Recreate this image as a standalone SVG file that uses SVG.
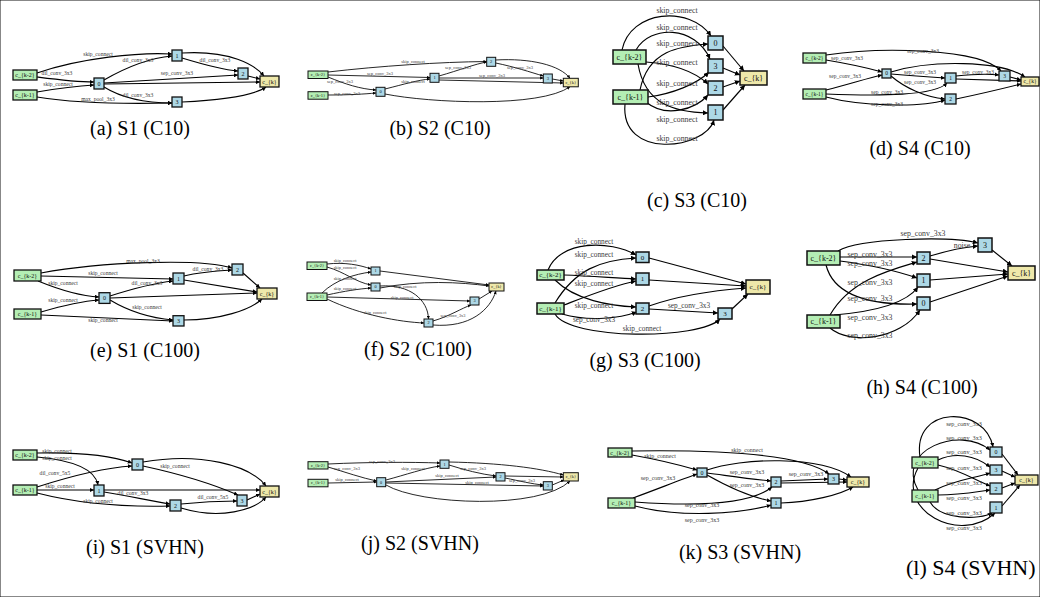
<svg xmlns="http://www.w3.org/2000/svg" width="1040" height="597" viewBox="0 0 1040 597">
<defs>
<marker id="mS" viewBox="0 0 10 10" refX="10" refY="5" markerWidth="3.2" markerHeight="3.2" markerUnits="userSpaceOnUse" orient="auto"><path d="M0,0L10,5L0,10z" fill="#000"/></marker>
<marker id="mM" viewBox="0 0 10 10" refX="10" refY="5" markerWidth="4.2" markerHeight="4.2" markerUnits="userSpaceOnUse" orient="auto"><path d="M0,0L10,5L0,10z" fill="#000"/></marker>
<marker id="mL" viewBox="0 0 10 10" refX="10" refY="5" markerWidth="5.2" markerHeight="5.2" markerUnits="userSpaceOnUse" orient="auto"><path d="M0,0L10,5L0,10z" fill="#000"/></marker>
</defs>
<style>
text{font-family:"Liberation Serif","Times New Roman",serif;text-anchor:middle}
rect{stroke:#111}
.in{fill:#b4eeb4}.mid{fill:#add8e6}.out{fill:#eee8aa}
.S rect{stroke-width:1}.M rect{stroke-width:1.3}.L rect{stroke-width:1.5}
.edges path{fill:none;stroke:#000}
.eS path{stroke-width:0.85;marker-end:url(#mS)}
.eM path{stroke-width:1.1;marker-end:url(#mM)}
.eL path{stroke-width:1.15;marker-end:url(#mL)}
.edges text{fill:#3a3a3a}
.nt{fill:#111}
.f43{font-size:4.3px}.f45{font-size:4.5px}.f55{font-size:5.5px}.f56{font-size:5.6px}.f6{font-size:6px}.f62{font-size:6.2px}.f7{font-size:7px}.f73{font-size:7.3px}.f78{font-size:7.8px}.f8{font-size:8px}
.cap{font-size:20px;fill:#000}
</style>
<rect width="1040" height="597" fill="#fff"/>

<!-- (a) -->
<g id="fig-a">
<g id="a-edges" class="edges eM">
<path d="M37,73 C80,58 140,52 172,54"/>
<path d="M37,77 C60,80 75,82 94,82"/>
<path d="M37,92 C60,88 75,86 94,85"/>
<path d="M37,97 C80,104 130,104 172,103"/>
<path d="M104,80 C130,65 150,58 172,56"/>
<path d="M104,87 C125,100 150,103 172,103"/>
<path d="M104,83 L238,75"/>
<path d="M104,84 L260,82"/>
<path d="M182,58 C205,65 225,70 238,71"/>
<path d="M182,53 C230,50 255,65 264,76"/>
<path d="M248,76 L260,79"/>
<path d="M182,102 C220,100 255,95 266,87"/>
<g class="f56">
<text x="98" y="56">skip_connect</text>
<text x="57" y="75">dil_conv_3x3</text>
<text x="58" y="86">skip_connect</text>
<text x="98" y="101">max_pool_3x3</text>
<text x="138" y="62">dil_conv_3x3</text>
<text x="138" y="97">dil_conv_3x3</text>
<text x="177" y="75">sep_conv_3x3</text>
<text x="215" y="62">dil_conv_3x3</text>
</g>
</g>
<g class="M f6">
<g id="a-k2"><rect class="in" x="13" y="70" width="24" height="10"/><text class="nt" x="25" y="77">c_{k-2}</text></g>
<g id="a-k1"><rect class="in" x="13" y="90" width="24" height="10"/><text class="nt" x="25" y="97">c_{k-1}</text></g>
<g id="a-n0"><rect class="mid" x="94" y="78" width="10" height="11"/><text class="nt" x="99" y="85.5">0</text></g>
<g id="a-n1"><rect class="mid" x="172" y="50" width="10" height="11"/><text class="nt" x="177" y="57.5">1</text></g>
<g id="a-n2"><rect class="mid" x="238" y="68" width="10" height="11"/><text class="nt" x="243" y="75.5">2</text></g>
<g id="a-n3"><rect class="mid" x="172" y="97" width="10" height="10"/><text class="nt" x="177" y="104">3</text></g>
<g id="a-ck"><rect class="out" x="260" y="76" width="19" height="11"/><text class="nt" x="269.5" y="83.5">c_{k}</text></g>
</g>
<text class="cap" x="140" y="135">(a) S1 (C10)</text>
</g>

<!-- (b) -->
<g id="fig-b">
<g id="b-edges" class="edges eS">
<path d="M328,72 C380,66 440,62 486.7,61.5"/>
<path d="M328,75 L430,77.5"/>
<path d="M328,77 C345,84 360,89 376,90"/>
<path d="M328,95 C350,95 365,94 376,93"/>
<path d="M385,89 C405,84 418,80 430,79"/>
<path d="M439,76 C460,70 475,64 486.7,62"/>
<path d="M439,78 L543.3,78"/>
<path d="M439,80 L563.3,83"/>
<path d="M495.7,63 C515,67 530,72 543.3,76"/>
<path d="M495.7,60 C530,58 560,65 570,78.3"/>
<path d="M552.3,79 L563.3,81"/>
<path d="M385,94 C430,103 540,108 570,86.7"/>
<g class="f45">
<text x="413" y="62.5">skip_connect</text>
<text x="380" y="74.5">sep_conv_3x3</text>
<text x="340" y="82.5">sep_conv_3x3</text>
<text x="347" y="94.5">sep_conv_3x3</text>
<text x="413" y="82.5">skip_connect</text>
<text x="458" y="68.5">sep_conv_3x3</text>
<text x="492" y="76.5">sep_conv_3x3</text>
<text x="520" y="68.5">sep_conv_3x3</text>
</g>
</g>
<g class="S f45">
<g id="b-k2"><rect class="in" x="308" y="71" width="20" height="7.5"/><text class="nt" x="318" y="76.2">c_{k-2}</text></g>
<g id="b-k1"><rect class="in" x="308" y="91.7" width="20" height="7.5"/><text class="nt" x="318" y="97">c_{k-1}</text></g>
<g id="b-n0"><rect class="mid" x="376" y="87.3" width="9" height="9"/><text class="nt" x="380.5" y="93.3">0</text></g>
<g id="b-n1"><rect class="mid" x="430" y="73.3" width="9" height="9"/><text class="nt" x="434.5" y="79.3">1</text></g>
<g id="b-n2"><rect class="mid" x="486.7" y="57.3" width="9" height="9"/><text class="nt" x="491.2" y="63.3">2</text></g>
<g id="b-n3"><rect class="mid" x="543.3" y="74" width="9" height="9"/><text class="nt" x="547.8" y="80">3</text></g>
<g id="b-ck"><rect class="out" x="563.3" y="78.3" width="15" height="8.5"/><text class="nt" x="570.8" y="84">c_{k}</text></g>
</g>
<text class="cap" x="440" y="135">(b) S2 (C10)</text>
</g>

<!-- (c) -->
<g id="fig-c">
<g id="c-edges" class="edges eL">
<path d="M622,50 C630,10 690,5 711,36"/>
<path d="M636,50 C650,25 695,25 710,59"/>
<path d="M640,90 C648,50 680,46 708,44"/>
<path d="M646,62 C675,64 695,72 708,84"/>
<path d="M648,97 C672,94 697,84 709,72"/>
<path d="M638,64 C645,105 675,112 708,113"/>
<path d="M646,102 C665,118 695,110 708,95"/>
<path d="M625,104 C620,160 705,150 714,120"/>
<path d="M723,46 L744,71"/>
<path d="M723,68 L740,75"/>
<path d="M723,87 L740,81"/>
<path d="M723,110 L745,85"/>
<g class="f78">
<text x="677" y="12.6">skip_connect</text>
<text x="677" y="29.6">skip_connect</text>
<text x="677" y="45.6">skip_connect</text>
<text x="677" y="64.6">skip_connect</text>
<text x="677" y="85.6">skip_connect</text>
<text x="677" y="104.6">skip_connect</text>
<text x="677" y="121.6">skip_connect</text>
<text x="677" y="140.6">skip_connect</text>
</g>
</g>
<g class="L f8">
<g id="c-k2"><rect class="in" x="613" y="50" width="33" height="14"/><text class="nt" x="629.5" y="59.7">c_{k-2}</text></g>
<g id="c-k1"><rect class="in" x="613" y="90" width="35" height="14"/><text class="nt" x="630.5" y="99.7">c_{k-1}</text></g>
<g id="c-n0"><rect class="mid" x="708" y="36" width="15" height="14"/><text class="nt" x="715.5" y="45.7">0</text></g>
<g id="c-n3"><rect class="mid" x="708" y="59" width="15" height="14"/><text class="nt" x="715.5" y="68.7">3</text></g>
<g id="c-n2"><rect class="mid" x="708" y="81" width="15" height="14"/><text class="nt" x="715.5" y="90.7">2</text></g>
<g id="c-n1"><rect class="mid" x="708" y="105" width="15" height="15"/><text class="nt" x="715.5" y="115.2">1</text></g>
<g id="c-ck"><rect class="out" x="740" y="71" width="27" height="14"/><text class="nt" x="753.5" y="80.7">c_{k}</text></g>
</g>
<text class="cap" x="697" y="207">(c) S3 (C10)</text>
</g>

<!-- (d) -->
<g id="fig-d">
<g id="d-edges" class="edges eM">
<path d="M826,55 C880,47 980,48 1001,71"/>
<path d="M891,72 C930,60 1000,60 1025,77"/>
<path d="M826,60 C850,64 868,68 882,72"/>
<path d="M826,90 C850,84 868,78 882,75"/>
<path d="M826,94 C880,96 935,96 947,83"/>
<path d="M826,97 C860,106 920,108 945,100"/>
<path d="M891,74 C915,76 930,77 945,78"/>
<path d="M891,76 C905,88 925,97 945,99"/>
<path d="M956,76 C975,74 990,74 999,75"/>
<path d="M956,79 L1021,81"/>
<path d="M956,99 C980,94 1005,88 1021,84"/>
<path d="M1010,77 L1021,80"/>
<g class="f55">
<text x="923" y="52.8">sep_conv_3x3</text>
<text x="847" y="59.8">sep_conv_3x3</text>
<text x="845" y="77.8">sep_conv_3x3</text>
<text x="887" y="93.8">sep_conv_3x3</text>
<text x="887" y="105.8">sep_conv_3x3</text>
<text x="920" y="73.8">sep_conv_3x3</text>
<text x="920" y="83.8">sep_conv_3x3</text>
<text x="978" y="73.8">sep_conv_3x3</text>
</g>
</g>
<g class="M f55">
<g id="d-k2"><rect class="in" x="803" y="53" width="23" height="10"/><text class="nt" x="814.5" y="59.8">c_{k-2}</text></g>
<g id="d-k1"><rect class="in" x="803" y="89" width="23" height="10"/><text class="nt" x="814.5" y="95.8">c_{k-1}</text></g>
<g id="d-n0"><rect class="mid" x="882" y="69" width="9" height="9"/><text class="nt" x="886.5" y="75.3">0</text></g>
<g id="d-n1"><rect class="mid" x="945" y="73" width="11" height="10"/><text class="nt" x="950.5" y="79.8">1</text></g>
<g id="d-n2"><rect class="mid" x="945" y="94" width="11" height="10"/><text class="nt" x="950.5" y="100.8">2</text></g>
<g id="d-n3"><rect class="mid" x="999" y="71" width="11" height="10"/><text class="nt" x="1004.5" y="77.8">3</text></g>
<g id="d-ck"><rect class="out" x="1021" y="77" width="18" height="9"/><text class="nt" x="1030" y="83.3">c_{k}</text></g>
</g>
<text class="cap" x="920" y="155">(d) S4 (C10)</text>
</g>

<!-- (e) -->
<g id="fig-e">
<g id="e-edges" class="edges eM">
<path d="M41,273 C100,262 200,258 232,268"/>
<path d="M41,276 L173,279"/>
<path d="M38,281 C60,290 80,296 99,297"/>
<path d="M41,312 C65,305 85,301 99,300"/>
<path d="M41,315 L173,321"/>
<path d="M110,296 C135,288 155,283 173,281"/>
<path d="M110,300 C130,312 150,318 173,320"/>
<path d="M110,298 L257,293"/>
<path d="M184,276 C200,272 215,271 232,270"/>
<path d="M184,280 L257,292"/>
<path d="M243,273 L260,288"/>
<path d="M184,320 C220,320 250,310 262,299"/>
<g class="f56">
<text x="143" y="263">max_pool_3x3</text>
<text x="103" y="275">skip_connect</text>
<text x="63" y="285">skip_connect</text>
<text x="63" y="302">skip_connect</text>
<text x="103" y="322">skip_connect</text>
<text x="147" y="285">dil_conv_3x3</text>
<text x="147" y="309">skip_connect</text>
<text x="208" y="271">dil_conv_3x3</text>
</g>
</g>
<g class="M f6">
<g id="e-k2"><rect class="in" x="14" y="270" width="27" height="11"/><text class="nt" x="27.5" y="277.5">c_{k-2}</text></g>
<g id="e-k1"><rect class="in" x="14" y="309" width="27" height="10"/><text class="nt" x="27.5" y="316">c_{k-1}</text></g>
<g id="e-n0"><rect class="mid" x="99" y="292.7" width="11" height="10.7"/><text class="nt" x="104.5" y="300">0</text></g>
<g id="e-n1"><rect class="mid" x="173" y="273" width="11" height="11"/><text class="nt" x="178.5" y="280.5">1</text></g>
<g id="e-n2"><rect class="mid" x="232" y="264" width="11" height="11"/><text class="nt" x="237.5" y="271.5">2</text></g>
<g id="e-n3"><rect class="mid" x="173" y="315.7" width="11" height="10.3"/><text class="nt" x="178.5" y="323">3</text></g>
<g id="e-ck"><rect class="out" x="257" y="288" width="20" height="11"/><text class="nt" x="267" y="295.5">c_{k}</text></g>
</g>
<text class="cap" x="145" y="357">(e) S1 (C100)</text>
</g>

<!-- (f) -->
<g id="fig-f">
<g id="f-edges" class="edges eS">
<path d="M327,264 C345,262 360,265 371,269"/>
<path d="M327,267 C345,272 355,282 371,285"/>
<path d="M322,293 C335,280 355,274 371,272"/>
<path d="M327,295 C345,291 358,289 371,288"/>
<path d="M327,297 L470,301"/>
<path d="M327,299 C360,315 400,322 424,323"/>
<path d="M380,286 C410,284 428,300 428.5,319"/>
<path d="M433,321 C450,316 462,308 471,305"/>
<path d="M380,271 L489,285"/>
<path d="M380,288 C420,280 460,282 489,286"/>
<path d="M479,299 L492,291"/>
<path d="M433,325 C470,328 490,310 496,291"/>
<g class="f43">
<text x="345" y="262.4">skip_connect</text>
<text x="345" y="269.4">skip_connect</text>
<text x="345" y="280.4">skip_connect</text>
<text x="345" y="290.4">skip_connect</text>
<text x="402" y="299.4">skip_connect</text>
<text x="375" y="314.4">skip_connect</text>
<text x="405" y="288.4">skip_connect</text>
<text x="453" y="317.4">sep_conv_3x3</text>
</g>
</g>
<g class="S f43">
<g id="f-k2"><rect class="in" x="307" y="262" width="20" height="7.5"/><text class="nt" x="317" y="267.1">c_{k-2}</text></g>
<g id="f-k1"><rect class="in" x="307" y="293" width="20" height="7.5"/><text class="nt" x="317" y="298.1">c_{k-1}</text></g>
<g id="f-n1"><rect class="mid" x="371" y="267" width="9" height="8"/><text class="nt" x="375.5" y="272.4">1</text></g>
<g id="f-n0"><rect class="mid" x="371" y="283" width="9" height="8"/><text class="nt" x="375.5" y="288.4">0</text></g>
<g id="f-n3"><rect class="mid" x="470" y="297" width="9" height="8"/><text class="nt" x="474.5" y="302.4">3</text></g>
<g id="f-n2"><rect class="mid" x="424" y="319" width="9" height="8"/><text class="nt" x="428.5" y="324.4">2</text></g>
<g id="f-ck"><rect class="out" x="489" y="283" width="15" height="8"/><text class="nt" x="496.5" y="288.4">c_{k}</text></g>
</g>
<text class="cap" x="418" y="356">(f) S2 (C100)</text>
</g>

<!-- (g) -->
<g id="fig-g">
<g id="g-edges" class="edges eL">
<path d="M548,270 C560,240 610,240 636,255"/>
<path d="M555,303 C575,270 600,260 636,258"/>
<path d="M564,275 C590,276 615,278 636,279"/>
<path d="M564,305 C590,295 615,285 636,281"/>
<path d="M555,280 C575,300 610,306 636,307"/>
<path d="M562,314 C590,322 620,318 637,312"/>
<path d="M555,314 C570,340 700,340 720,319"/>
<path d="M649,309 L718,313"/>
<path d="M649,258 L746,284"/>
<path d="M649,280 L746,286"/>
<path d="M649,306 C680,295 720,290 746,288"/>
<path d="M732,309 L748,294"/>
<g class="f73">
<text x="594" y="244.4">skip_connect</text>
<text x="594" y="257.4">skip_connect</text>
<text x="594" y="275.4">skip_connect</text>
<text x="594" y="286.4">skip_connect</text>
<text x="594" y="308.4">skip_connect</text>
<text x="594" y="322.4">sep_conv_3x3</text>
<text x="642" y="331.4">skip_connect</text>
<text x="689" y="308.4">sep_conv_3x3</text>
</g>
</g>
<g class="L f7">
<g id="g-k2"><rect class="in" x="537" y="270" width="27" height="10"/><text class="nt" x="550.5" y="277.3">c_{k-2}</text></g>
<g id="g-k1"><rect class="in" x="537" y="303" width="27" height="11"/><text class="nt" x="550.5" y="310.8">c_{k-1}</text></g>
<g id="g-n0"><rect class="mid" x="636" y="252" width="13" height="10.5"/><text class="nt" x="642.5" y="259.6">0</text></g>
<g id="g-n1"><rect class="mid" x="636" y="273" width="13" height="12"/><text class="nt" x="642.5" y="281.3">1</text></g>
<g id="g-n2"><rect class="mid" x="636" y="303" width="13" height="11"/><text class="nt" x="642.5" y="310.8">2</text></g>
<g id="g-n3"><rect class="mid" x="718" y="308" width="14" height="11"/><text class="nt" x="725" y="315.8">3</text></g>
<g id="g-ck"><rect class="out" x="746" y="280" width="24" height="14"/><text class="nt" x="758" y="289.3">c_{k}</text></g>
</g>
<text class="cap" x="645" y="367">(g) S3 (C100)</text>
</g>

<!-- (h) -->
<g id="fig-h">
<g id="h-edges" class="edges eL">
<path d="M838,251 C860,238 950,236 978,243"/>
<path d="M840,257 L917,257"/>
<path d="M840,261 C870,265 900,272 917,278"/>
<path d="M830,315 C850,280 890,270 917,262"/>
<path d="M826,265 C835,300 880,305 917,304"/>
<path d="M834,315 C870,312 905,305 918,287"/>
<path d="M830,328 C850,345 900,340 920,310"/>
<path d="M930,256 C950,250 965,247 978,246"/>
<path d="M930,259 L1008,272"/>
<path d="M930,280 L1008,274"/>
<path d="M930,302 L1008,276"/>
<path d="M992,250 L1012,266"/>
<g class="f78">
<text x="923" y="236">sep_conv_3x3</text>
<text x="870" y="256.6">sep_conv_3x3</text>
<text x="870" y="265.6">sep_conv_3x3</text>
<text x="870" y="284.6">sep_conv_3x3</text>
<text x="870" y="300.6">sep_conv_3x3</text>
<text x="870" y="319.6">sep_conv_3x3</text>
<text x="870" y="337.6">sep_conv_3x3</text>
<text x="962" y="247.6">noise</text>
</g>
</g>
<g class="L f8">
<g id="h-k2"><rect class="in" x="807" y="251" width="33" height="14"/><text class="nt" x="823.5" y="260.7">c_{k-2}</text></g>
<g id="h-k1"><rect class="in" x="807" y="315" width="33" height="13"/><text class="nt" x="823.5" y="324.2">c_{k-1}</text></g>
<g id="h-n2"><rect class="mid" x="917" y="252" width="13" height="12"/><text class="nt" x="923.5" y="260.7">2</text></g>
<g id="h-n1"><rect class="mid" x="917" y="274" width="13" height="13"/><text class="nt" x="923.5" y="283.2">1</text></g>
<g id="h-n0"><rect class="mid" x="917" y="297" width="13" height="13"/><text class="nt" x="923.5" y="306.2">0</text></g>
<g id="h-n3"><rect class="mid" x="978" y="238" width="14" height="14"/><text class="nt" x="985" y="247.7">3</text></g>
<g id="h-ck"><rect class="out" x="1008" y="266" width="27" height="14"/><text class="nt" x="1021.5" y="275.7">c_{k}</text></g>
</g>
<text class="cap" x="922" y="394">(h) S4 (C100)</text>
</g>

<!-- (i) -->
<g id="fig-i">
<g id="i-edges" class="edges eM">
<path d="M37,453 C80,452 110,455 132,463"/>
<path d="M37,457 C70,460 95,468 98,485"/>
<path d="M37,487 C65,478 100,468 132,466"/>
<path d="M37,490 L94,490"/>
<path d="M37,493 C80,504 130,507 170,506"/>
<path d="M143,466 C180,474 215,485 238,495"/>
<path d="M104,492 C130,496 150,501 170,504"/>
<path d="M181,504 C200,502 220,501 237,501"/>
<path d="M143,462 C200,452 250,465 266,486"/>
<path d="M104,490 L260,490"/>
<path d="M247,500 L260,494"/>
<path d="M181,508 C220,520 255,510 266,497"/>
<g class="f56">
<text x="57" y="453">skip_connect</text>
<text x="57" y="460">skip_connect</text>
<text x="55" y="475">dil_conv_5x5</text>
<text x="60" y="488">skip_connect</text>
<text x="98" y="503">skip_connect</text>
<text x="175" y="468">skip_connect</text>
<text x="133" y="495">dil_conv_3x3</text>
<text x="213" y="499">dil_conv_5x5</text>
</g>
</g>
<g class="M f6">
<g id="i-k2"><rect class="in" x="13" y="450" width="24" height="10"/><text class="nt" x="25" y="457">c_{k-2}</text></g>
<g id="i-k1"><rect class="in" x="13" y="485" width="24" height="10"/><text class="nt" x="25" y="492">c_{k-1}</text></g>
<g id="i-n0"><rect class="mid" x="132" y="459" width="11" height="11"/><text class="nt" x="137.5" y="466.5">0</text></g>
<g id="i-n1"><rect class="mid" x="94" y="485" width="10" height="11"/><text class="nt" x="99" y="492.5">1</text></g>
<g id="i-n2"><rect class="mid" x="170" y="500" width="11" height="11"/><text class="nt" x="175.5" y="507.5">2</text></g>
<g id="i-n3"><rect class="mid" x="237" y="495" width="10" height="11"/><text class="nt" x="242" y="502.5">3</text></g>
<g id="i-ck"><rect class="out" x="260" y="486" width="19" height="11"/><text class="nt" x="269.5" y="493.5">c_{k}</text></g>
</g>
<text class="cap" x="145" y="554">(i) S1 (SVHN)</text>
</g>

<!-- (j) -->
<g id="fig-j">
<g id="j-edges" class="edges eS">
<path d="M328,464 C370,462 410,462 440,463"/>
<path d="M328,467 C345,472 362,478 376.7,481"/>
<path d="M328,483 L376.7,482"/>
<path d="M386,480 C405,475 425,468 440,466"/>
<path d="M449,465 C465,470 480,474 496,476"/>
<path d="M386,482 L496,477"/>
<path d="M386,483 L543.3,486"/>
<path d="M505,478 C520,481 532,484 543.3,485"/>
<path d="M449,462 C500,463 540,468 563.3,475"/>
<path d="M505,476 L563.3,477"/>
<path d="M552.3,485 L564,480"/>
<path d="M386,485 C420,505 540,510 570,481"/>
<g class="f45">
<text x="382" y="462.5">sep_conv_3x3</text>
<text x="347" y="469.5">sep_conv_3x3</text>
<text x="347" y="480.5">skip_connect</text>
<text x="413" y="469.5">skip_connect</text>
<text x="473" y="469.5">sep_conv_3x3</text>
<text x="447" y="476.5">skip_connect</text>
<text x="477" y="483.5">skip_connect</text>
<text x="522" y="481.5">sep_conv_3x3</text>
</g>
</g>
<g class="S f43">
<g id="j-k2"><rect class="in" x="308" y="461.7" width="20" height="7.3"/><text class="nt" x="318" y="466.7">c_{k-2}</text></g>
<g id="j-k1"><rect class="in" x="308" y="479.3" width="20" height="7.5"/><text class="nt" x="318" y="484.4">c_{k-1}</text></g>
<g id="j-n0"><rect class="mid" x="376.7" y="477.7" width="9" height="9"/><text class="nt" x="381.2" y="483.6">0</text></g>
<g id="j-n1"><rect class="mid" x="440" y="460" width="9" height="8.3"/><text class="nt" x="444.5" y="465.6">1</text></g>
<g id="j-n2"><rect class="mid" x="496" y="472.7" width="9" height="8.3"/><text class="nt" x="500.5" y="478.2">2</text></g>
<g id="j-n3"><rect class="mid" x="543.3" y="481.7" width="9" height="8.3"/><text class="nt" x="547.8" y="487.2">3</text></g>
<g id="j-ck"><rect class="out" x="563.3" y="472.7" width="15" height="8.3"/><text class="nt" x="570.8" y="478.2">c_{k}</text></g>
</g>
<text class="cap" x="420" y="550">(j) S2 (SVHN)</text>
</g>

<!-- (k) -->
<g id="fig-k">
<g id="k-edges" class="edges eM">
<path d="M632,451 C700,450 800,452 829,474"/>
<path d="M632,455 C660,460 680,465 697,470"/>
<path d="M633,498 C655,490 680,480 697,474"/>
<path d="M707,470 C740,458 820,455 851,477"/>
<path d="M707,473 C730,476 750,479 771,481"/>
<path d="M707,475 C730,488 750,497 771,501"/>
<path d="M635,502 C690,506 750,505 772,487"/>
<path d="M635,506 C680,518 740,514 771,505"/>
<path d="M781,481 L828,479"/>
<path d="M781,483 L847,482"/>
<path d="M781,503 C810,502 840,495 853,487"/>
<path d="M839,479 L847,480"/>
<g class="f6">
<text x="747" y="452">skip_connect</text>
<text x="660" y="458">skip_connect</text>
<text x="658" y="480">sep_conv_3x3</text>
<text x="747" y="474">sep_conv_3x3</text>
<text x="747" y="487">sep_conv_3x3</text>
<text x="702" y="507">sep_conv_3x3</text>
<text x="702" y="522">sep_conv_3x3</text>
<text x="806" y="476">sep_conv_3x3</text>
</g>
</g>
<g class="M f6">
<g id="k-k2"><rect class="in" x="608" y="448" width="24" height="9"/><text class="nt" x="620" y="454.5">c_{k-2}</text></g>
<g id="k-k1"><rect class="in" x="608" y="498" width="27" height="10"/><text class="nt" x="621.5" y="505">c_{k-1}</text></g>
<g id="k-n0"><rect class="mid" x="697" y="468" width="10" height="9"/><text class="nt" x="702" y="474.5">0</text></g>
<g id="k-n2"><rect class="mid" x="771" y="477" width="10" height="10"/><text class="nt" x="776" y="484">2</text></g>
<g id="k-n1"><rect class="mid" x="771" y="498" width="10" height="10"/><text class="nt" x="776" y="505">1</text></g>
<g id="k-n3"><rect class="mid" x="828" y="474" width="11" height="10"/><text class="nt" x="833.5" y="481">3</text></g>
<g id="k-ck"><rect class="out" x="847" y="477" width="22" height="10"/><text class="nt" x="858" y="484">c_{k}</text></g>
</g>
<text class="cap" x="740" y="559">(k) S3 (SVHN)</text>
</g>

<!-- (l) -->
<g id="fig-l">
<g id="l-edges" class="edges eM">
<path d="M920,457 C912,405 985,405 993,447"/>
<path d="M918,490 C895,450 960,425 990,450"/>
<path d="M938,460 C955,452 975,455 990,467"/>
<path d="M938,465 C960,470 975,480 990,486"/>
<path d="M935,490 C955,480 975,478 990,473"/>
<path d="M938,495 C960,495 975,492 990,490"/>
<path d="M930,502 C940,520 980,520 992,513"/>
<path d="M918,468 C895,510 960,545 995,513"/>
<path d="M1002,454 L1018,475"/>
<path d="M1002,471 L1015,477"/>
<path d="M1002,488 L1015,483"/>
<path d="M1002,506 L1020,485"/>
<g class="f62">
<text x="964" y="426">sep_conv_3x3</text>
<text x="964" y="440">sep_conv_3x3</text>
<text x="964" y="454">sep_conv_3x3</text>
<text x="964" y="470">sep_conv_3x3</text>
<text x="964" y="485">sep_conv_3x3</text>
<text x="964" y="500">sep_conv_3x3</text>
<text x="964" y="515">sep_conv_3x3</text>
<text x="964" y="530">sep_conv_3x3</text>
</g>
</g>
<g class="M f6">
<g id="l-k2"><rect class="in" x="912" y="457" width="26" height="11"/><text class="nt" x="925" y="464.5">c_{k-2}</text></g>
<g id="l-k1"><rect class="in" x="912" y="490" width="26" height="12"/><text class="nt" x="925" y="498">c_{k-1}</text></g>
<g id="l-n0"><rect class="mid" x="990" y="447" width="12" height="10"/><text class="nt" x="996" y="454">0</text></g>
<g id="l-n3"><rect class="mid" x="990" y="465" width="12" height="10"/><text class="nt" x="996" y="472">3</text></g>
<g id="l-n2"><rect class="mid" x="990" y="483" width="12" height="11"/><text class="nt" x="996" y="490.5">2</text></g>
<g id="l-n1"><rect class="mid" x="990" y="502" width="12" height="11"/><text class="nt" x="996" y="509.5">1</text></g>
<g id="l-ck"><rect class="out" x="1015" y="475" width="23" height="10"/><text class="nt" x="1026.5" y="482">c_{k}</text></g>
</g>
<text class="cap" x="906" y="575" style="text-anchor:start;font-size:22px">(l) S4 (SVHN)</text>
</g>
</svg>
